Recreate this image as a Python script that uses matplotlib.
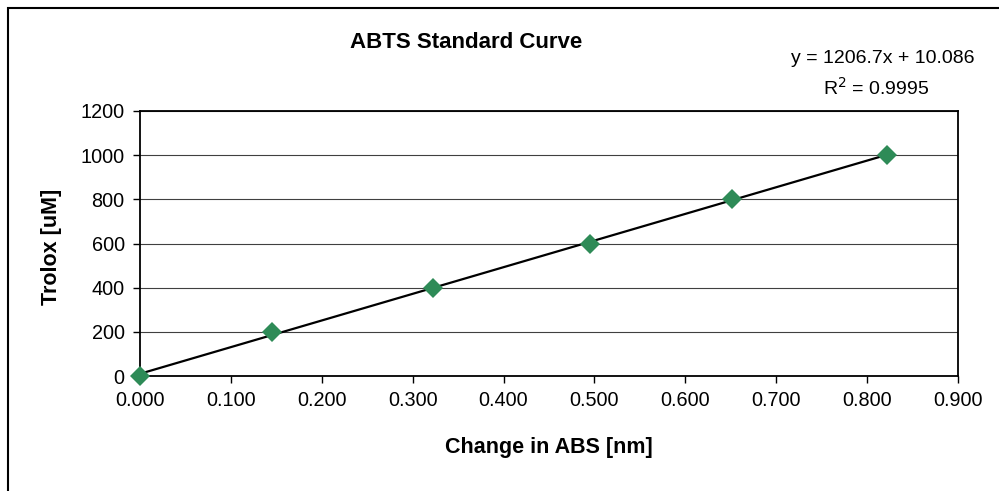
import matplotlib
matplotlib.use('Agg')
import matplotlib.pyplot as plt
from matplotlib.patches import Rectangle
import numpy as np

# ABTS calibration points
abs_change = [0.000, 0.145, 0.322, 0.495, 0.651, 0.822]
trolox_um = [0, 200, 400, 600, 800, 1000]

# Linear trendline as reported
slope = 1206.7
intercept = 10.086
r_squared = 0.9995

x_ticks = [0.0, 0.1, 0.2, 0.3, 0.4, 0.5, 0.6, 0.7, 0.8, 0.9]
y_ticks = [0, 200, 400, 600, 800, 1000, 1200]

plt.rcParams['font.family'] = ['Liberation Sans', 'DejaVu Sans']

fig = plt.figure(figsize=(9.99, 4.91), dpi=100)
W, H = 999, 491

# chart frame, runs off the right and bottom edges
fig.patches.append(Rectangle((7.5 / W, -0.1), 1.2, 1 - 8 / H + 0.1,
                             transform=fig.transFigure, fill=False,
                             edgecolor='black', linewidth=1.5))

ax = fig.add_axes([140 / W, 1 - 376 / H, (958 - 140) / W, (376 - 111) / H])
ax.set_xlim(0, 0.9)
ax.set_ylim(0, 1200)
ax.set_xticks(x_ticks)
ax.set_yticks(y_ticks)
ax.set_xticklabels([f'{v:.3f}' for v in x_ticks])
ax.tick_params(direction='out', length=5, width=1, labelsize=14.3, pad=6)
ax.yaxis.grid(True, color='#404040', linewidth=0.8)
ax.set_axisbelow(True)
for s in ax.spines.values():
    s.set_linewidth(1.3)

xs = np.array([min(abs_change), max(abs_change)])
ax.plot(xs, slope * xs + intercept, color='black', linewidth=1.6, clip_on=False, zorder=3)
ax.plot(abs_change, trolox_um, linestyle='none', marker='D', markersize=10.5,
        color='#2e8b57', markeredgewidth=0, clip_on=False, zorder=4)

fig.text(466 / W, 1 - 42 / H, 'ABTS Standard Curve', ha='center', va='center',
         fontsize=16, fontweight='bold')
fig.text(883 / W, 1 - 63 / H, f'y = {slope}x + {intercept}', ha='center',
         va='baseline', fontsize=14)
fig.text(876 / W, 1 - 95 / H, f'R$^2$ = {r_squared}', ha='center',
         va='baseline', fontsize=14)
fig.text(52 / W, 1 - 247 / H, 'Trolox [uM]', rotation=90, ha='center',
         va='center', fontsize=15.5, fontweight='bold')
fig.text(549 / W, 1 - 447 / H, 'Change in ABS [nm]', ha='center',
         va='center', fontsize=15.5, fontweight='bold')

fig.savefig('out.png', dpi=100)
